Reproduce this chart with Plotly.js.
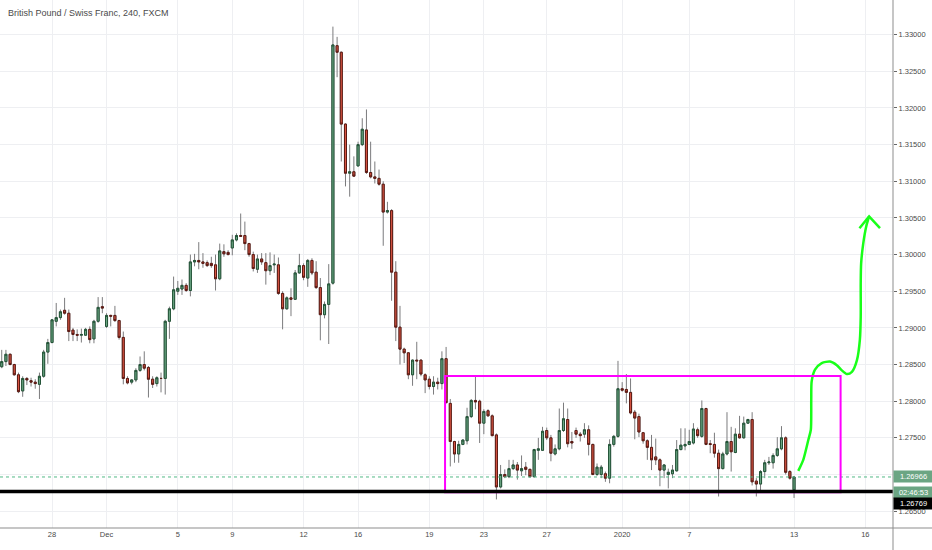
<!DOCTYPE html>
<html>
<head>
<meta charset="utf-8">
<script src="https://cdn.plot.ly/plotly-3.0.1.min.js"></script>
<style>html,body{margin:0;padding:0;background:#fff;}#chart{width:932px;height:550px;}</style>
</head>
<body>
<div id="chart"></div>
<script>
// GBP/CHF 4h candles (FXCM)
const opens = [
1.2847,1.2854,1.2864,1.2850,1.2836,1.2814,1.2831,1.2828,1.2826,1.2823,
1.2834,1.2867,1.2880,1.2909,1.2914,1.2924,1.2920,1.2897,1.2891,1.2890,
1.2890,1.2898,1.2885,1.2909,1.2929,1.2902,1.2917,1.2917,1.2910,1.2887,
1.2831,1.2826,1.2829,1.2842,1.2850,1.2846,1.2830,1.2824,1.2831,1.2831,
1.2909,1.2926,1.2950,1.2953,1.2958,1.2951,1.2990,1.2992,1.2990,1.2989,
1.2988,1.2986,1.2967,1.3004,1.3003,1.3009,1.3020,1.3026,1.3026,1.3015,
1.3000,1.2980,1.2994,1.2989,1.2978,1.2986,1.2986,1.2947,1.2926,1.2941,
1.2939,1.2975,1.2985,1.2968,1.2992,1.2976,1.2955,1.2918,1.2932,1.2961,
1.3285,1.3276,1.3178,1.3111,1.3113,1.3121,1.3150,1.3170,1.3112,1.3106,
1.3104,1.3096,1.3058,1.3060,1.2976,1.2901,1.2871,1.2866,1.2836,1.2856,
1.2856,1.2836,1.2830,1.2820,1.2826,1.2824,1.2858,1.2797,1.2745,1.2728,
1.2741,1.2746,1.2779,1.2801,1.2800,1.2770,1.2787,1.2780,1.2754,1.2683,
1.2700,1.2697,1.2708,1.2713,1.2705,1.2710,1.2707,1.2697,1.2733,1.2733,
1.2760,1.2750,1.2728,1.2735,1.2760,1.2775,1.2745,1.2760,1.2755,1.2755,
1.2761,1.2741,1.2700,1.2700,1.2701,1.2695,1.2741,1.2752,1.2817,1.2816,
1.2812,1.2785,1.2779,1.2757,1.2746,1.2737,1.2724,1.2720,1.2706,1.2700,
1.2701,1.2705,1.2734,1.2739,1.2741,1.2743,1.2761,1.2752,1.2790,1.2742,
1.2741,1.2729,1.2708,1.2728,1.2745,1.2730,1.2755,1.2750,1.2770,1.2775,
1.2691,1.2687,1.2704,1.2716,1.2716,1.2726,1.2735,1.2750,1.2704,1.2679];
const highs = [
1.2870,1.2870,1.2865,1.2851,1.2839,1.2834,1.2833,1.2832,1.2830,1.2839,
1.2870,1.2885,1.2912,1.2934,1.2925,1.2941,1.2925,1.2900,1.2898,1.2899,
1.2900,1.2902,1.2911,1.2942,1.2942,1.2920,1.2918,1.2930,1.2911,1.2895,
1.2834,1.2830,1.2845,1.2861,1.2868,1.2848,1.2834,1.2834,1.2839,1.2911,
1.2929,1.2970,1.2964,1.2966,1.2961,1.3000,1.3001,1.3017,1.3002,1.2992,
1.2997,1.3000,1.3015,1.3014,1.3006,1.3027,1.3029,1.3056,1.3045,1.3016,
1.3004,1.3000,1.3002,1.3002,1.3003,1.3000,1.2996,1.2950,1.2943,1.2954,
1.2979,1.3001,1.2988,1.2994,1.2995,1.2991,1.2968,1.2936,1.2987,1.3311,
1.3297,1.3277,1.3179,1.3150,1.3134,1.3154,1.3186,1.3198,1.3154,1.3127,
1.3116,1.3100,1.3072,1.3062,1.2991,1.2930,1.2873,1.2867,1.2857,1.2881,
1.2857,1.2838,1.2834,1.2834,1.2832,1.2868,1.2874,1.2803,1.2746,1.2746,
1.2748,1.2791,1.2803,1.2834,1.2802,1.2789,1.2789,1.2782,1.2756,1.2713,
1.2707,1.2720,1.2720,1.2717,1.2726,1.2717,1.2708,1.2735,1.2750,1.2765,
1.2764,1.2754,1.2741,1.2790,1.2798,1.2790,1.2758,1.2764,1.2758,1.2770,
1.2767,1.2742,1.2715,1.2713,1.2704,1.2748,1.2754,1.2855,1.2826,1.2837,
1.2831,1.2788,1.2783,1.2758,1.2748,1.2754,1.2749,1.2722,1.2714,1.2708,
1.2713,1.2747,1.2763,1.2763,1.2761,1.2770,1.2764,1.2801,1.2791,1.2747,
1.2757,1.2734,1.2731,1.2785,1.2765,1.2763,1.2780,1.2779,1.2776,1.2785,
1.2695,1.2706,1.2720,1.2724,1.2729,1.2751,1.2766,1.2752,1.2706,1.2698];
const lows = [
1.2845,1.2848,1.2849,1.2835,1.2811,1.2806,1.2822,1.2820,1.2817,1.2803,
1.2832,1.2851,1.2879,1.2902,1.2911,1.2918,1.2882,1.2882,1.2882,1.2880,
1.2889,1.2879,1.2879,1.2907,1.2920,1.2900,1.2902,1.2908,1.2884,1.2823,
1.2823,1.2823,1.2826,1.2840,1.2842,1.2805,1.2818,1.2820,1.2812,1.2809,
1.2885,1.2924,1.2945,1.2945,1.2949,1.2943,1.2984,1.2980,1.2982,1.2983,
1.2982,1.2951,1.2965,1.2997,1.2999,1.2999,1.3018,1.3024,1.3006,1.2997,
1.2977,1.2975,1.2986,1.2959,1.2972,1.2975,1.2945,1.2898,1.2925,1.2916,
1.2938,1.2974,1.2965,1.2956,1.2972,1.2953,1.2883,1.2913,1.2878,1.2959,
1.3242,1.3127,1.3093,1.3079,1.3106,1.3120,1.3148,1.3110,1.3104,1.3097,
1.3094,1.3012,1.3056,1.2937,1.2882,1.2850,1.2852,1.2830,1.2821,1.2830,
1.2834,1.2811,1.2816,1.2809,1.2816,1.2816,1.2797,1.2711,1.2716,1.2716,
1.2740,1.2741,1.2777,1.2789,1.2743,1.2755,1.2779,1.2752,1.2666,1.2681,
1.2695,1.2695,1.2706,1.2693,1.2698,1.2699,1.2696,1.2696,1.2720,1.2732,
1.2747,1.2718,1.2726,1.2733,1.2758,1.2737,1.2735,1.2750,1.2745,1.2750,
1.2726,1.2699,1.2698,1.2695,1.2690,1.2688,1.2738,1.2750,1.2813,1.2797,
1.2782,1.2748,1.2751,1.2742,1.2720,1.2706,1.2713,1.2684,1.2695,1.2681,
1.2695,1.2704,1.2733,1.2733,1.2740,1.2741,1.2750,1.2750,1.2740,1.2729,
1.2723,1.2670,1.2707,1.2726,1.2704,1.2729,1.2749,1.2749,1.2770,1.2685,
1.2670,1.2675,1.2695,1.2713,1.2708,1.2724,1.2733,1.2700,1.2693,1.2668];
const closes = [
1.2854,1.2864,1.2850,1.2836,1.2813,1.2831,1.2829,1.2826,1.2824,1.2834,
1.2867,1.2880,1.2911,1.2914,1.2922,1.2920,1.2895,1.2891,1.2890,1.2891,
1.2898,1.2884,1.2909,1.2928,1.2927,1.2917,1.2916,1.2910,1.2887,1.2831,
1.2825,1.2829,1.2842,1.2850,1.2845,1.2830,1.2823,1.2832,1.2831,1.2909,
1.2926,1.2952,1.2954,1.2958,1.2951,1.2990,1.2992,1.2990,1.2988,1.2985,
1.2985,1.2967,1.3005,1.3001,1.3000,1.3020,1.3026,1.3025,1.3015,1.3000,
1.2981,1.2994,1.2990,1.2978,1.2985,1.2987,1.2947,1.2926,1.2941,1.2939,
1.2975,1.2985,1.2969,1.2992,1.2975,1.2955,1.2918,1.2932,1.2960,1.3286,
1.3276,1.3178,1.3111,1.3113,1.3107,1.3150,1.3171,1.3112,1.3106,1.3104,
1.3096,1.3058,1.3060,1.2976,1.2901,1.2871,1.2866,1.2836,1.2856,1.2855,
1.2837,1.2829,1.2820,1.2826,1.2824,1.2858,1.2798,1.2745,1.2728,1.2741,
1.2747,1.2779,1.2801,1.2799,1.2770,1.2786,1.2780,1.2753,1.2683,1.2700,
1.2697,1.2708,1.2713,1.2706,1.2708,1.2707,1.2697,1.2734,1.2735,1.2759,
1.2750,1.2729,1.2735,1.2760,1.2776,1.2742,1.2743,1.2755,1.2753,1.2761,
1.2741,1.2700,1.2710,1.2710,1.2695,1.2741,1.2752,1.2817,1.2815,1.2812,
1.2784,1.2777,1.2758,1.2746,1.2737,1.2720,1.2720,1.2706,1.2713,1.2703,
1.2706,1.2734,1.2740,1.2741,1.2745,1.2762,1.2753,1.2790,1.2741,1.2741,
1.2729,1.2708,1.2728,1.2745,1.2731,1.2755,1.2750,1.2770,1.2775,1.2690,
1.2687,1.2704,1.2716,1.2717,1.2726,1.2735,1.2750,1.2703,1.2695,1.26966];

// time axis labels and the bar they sit on
const tickLabels = ['28','Dec','5','9','12','16','19','23','27','2020','7','13','16'];
const tickBars   = [12,25,42,55,72,85,102,115,130,148,164,189,206];

// price axis levels and their labels (1.27000 sits under the price tag)
const priceTicks = [1.265,1.270,1.275,1.280,1.285,1.290,1.295,1.300,1.305,1.310,1.315,1.320,1.325,1.330];
const priceTickText = ['1.26500','','1.27500','1.28000','1.28500','1.29000','1.29500','1.30000','1.30500','1.31000','1.31500','1.32000','1.32500','1.33000'];

// price levels
const lastPrice = 1.26966;
const supportLevel = 1.26769;
const rangeTop = 1.28344, rangeBottom = 1.26757;
const rangeStartBar = 105.75, rangeEndBar = 200.1;
const countdown = '02:46:53';

// hand-drawn projection arrow (bar index, price)
const arrowBars = [190.0,191.2,192.4,193.0,193.1,193.2,194.0,195.6,197.6,199.2,200.4,201.6,202.8,204.0,204.7,204.9,204.9,205.0,205.5,206.2,206.9];
const arrowPrices = [1.2705,1.2720,1.2747,1.2761,1.2802,1.2827,1.2843,1.2852,1.2854,1.2849,1.2842,1.2837,1.2840,1.2856,1.2884,1.2915,1.2961,1.2988,1.3015,1.3038,1.3052];
const headBars = [204.6,206.9,209.5];
const headPrices = [1.3036,1.3052,1.3036];

const bars = opens.map((_, i) => i);
const bodyHigh = opens.map((o, i) => Math.max(o, closes[i]));
const bodyLow = opens.map((o, i) => Math.min(o, closes[i]));

const W = 932, H = 550, mR = 39, mB = 22;
const plotW = W - mR, plotH = H - mB;

const wicks = {
  type: 'candlestick', x: bars, open: opens, high: highs, low: lows, close: closes,
  increasing: {line: {color: '#7b7b7d', width: 1}, fillcolor: 'rgba(0,0,0,0)'},
  decreasing: {line: {color: '#7b7b7d', width: 1}, fillcolor: 'rgba(0,0,0,0)'},
  whiskerwidth: 0, hoverinfo: 'skip', showlegend: false
};
const bodies = {
  type: 'candlestick', x: bars, open: opens, high: bodyHigh, low: bodyLow, close: closes,
  increasing: {line: {color: '#225437', width: 1}, fillcolor: '#6ba583'},
  decreasing: {line: {color: '#5b1a13', width: 1}, fillcolor: '#d75442'},
  whiskerwidth: 0, hoverinfo: 'skip', showlegend: false
};
const arrow = {
  type: 'scatter', mode: 'lines', x: arrowBars, y: arrowPrices,
  line: {color: '#19ff19', width: 2.5, shape: 'spline', smoothing: 0.7},
  hoverinfo: 'skip', showlegend: false
};
const head = {
  type: 'scatter', mode: 'lines', x: headBars, y: headPrices,
  line: {color: '#19ff19', width: 2.5}, hoverinfo: 'skip', showlegend: false
};

const gray = '#4a4a4a';
const layout = {
  width: W, height: H,
  margin: {l: 0, r: mR, t: 0, b: mB, pad: 0},
  paper_bgcolor: '#ffffff', plot_bgcolor: '#ffffff',
  font: {family: 'Liberation Sans, Arial, sans-serif', size: 7.5, color: gray},
  showlegend: false, hovermode: false,
  xaxis: {
    range: [-0.41, 212.6], tickmode: 'array', tickvals: tickBars, ticktext: tickLabels,
    showgrid: true, gridcolor: '#eeeff2', gridwidth: 1, zeroline: false, showline: false,
    ticks: '', rangeslider: {visible: false}, fixedrange: true,
    tickfont: {size: 7.5, color: gray}
  },
  yaxis: {
    side: 'right', range: [1.2627, 1.33473], tickmode: 'array', tickvals: priceTicks, ticktext: priceTickText,
    showgrid: true, gridcolor: '#eeeff2', gridwidth: 1, zeroline: false, showline: false,
    ticks: 'outside', ticklen: 3, tickcolor: '#666', tickfont: {size: 7.5, color: gray},
    fixedrange: true
  },
  shapes: [
    {type: 'line', xref: 'paper', x0: 0, x1: 1, yref: 'y', y0: lastPrice, y1: lastPrice,
     line: {color: '#53b987', width: 1, dash: 'dot'}, layer: 'above'},
    {type: 'rect', xref: 'x', x0: rangeStartBar, x1: rangeEndBar, yref: 'y', y0: rangeBottom, y1: rangeTop,
     line: {color: '#ff00ff', width: 2}, fillcolor: 'rgba(0,0,0,0)', layer: 'above'},
    {type: 'line', xref: 'paper', x0: 0, x1: 1, yref: 'y', y0: supportLevel, y1: supportLevel,
     line: {color: '#000000', width: 3.5}, layer: 'above'},
    {type: 'line', xref: 'paper', x0: 0, x1: W / plotW, yref: 'paper', y0: 0, y1: 0,
     line: {color: '#8d8d8d', width: 1}, layer: 'above'},
    {type: 'line', xref: 'paper', x0: 1, x1: 1, yref: 'paper', y0: -mB / plotH, y1: 1,
     line: {color: '#8d8d8d', width: 1}, layer: 'above'}
  ],
  annotations: [
    {xref: 'paper', yref: 'paper', x: 6 / plotW, y: 1 - 13 / plotH, xanchor: 'left', yanchor: 'middle',
     text: 'British Pound / Swiss Franc, 240, FXCM', showarrow: false,
     font: {size: 9, color: gray}},
    {xref: 'paper', yref: 'paper', x: 1, y: 1 - 476 / plotH, xanchor: 'left', yanchor: 'middle',
     text: lastPrice.toFixed(5), showarrow: false, bgcolor: '#6ba583', width: 37, height: 9, borderpad: 1,
     font: {size: 7.5, color: '#ffffff'}},
    {xref: 'paper', yref: 'paper', x: 1, y: 1 - 492 / plotH, xanchor: 'left', yanchor: 'middle',
     text: countdown, showarrow: false, bgcolor: '#6ba583', width: 37, height: 9, borderpad: 1,
     font: {size: 7.5, color: '#ffffff'}},
    {xref: 'paper', yref: 'paper', x: 1, y: 1 - 503.5 / plotH, xanchor: 'left', yanchor: 'middle',
     text: supportLevel.toFixed(5), showarrow: false, bgcolor: '#000000', width: 37, height: 9, borderpad: 1,
     font: {size: 7.5, color: '#ffffff'}}
  ]
};

Plotly.newPlot('chart', [wicks, bodies, arrow, head], layout, {staticPlot: true, displayModeBar: false});
</script>
</body>
</html>
